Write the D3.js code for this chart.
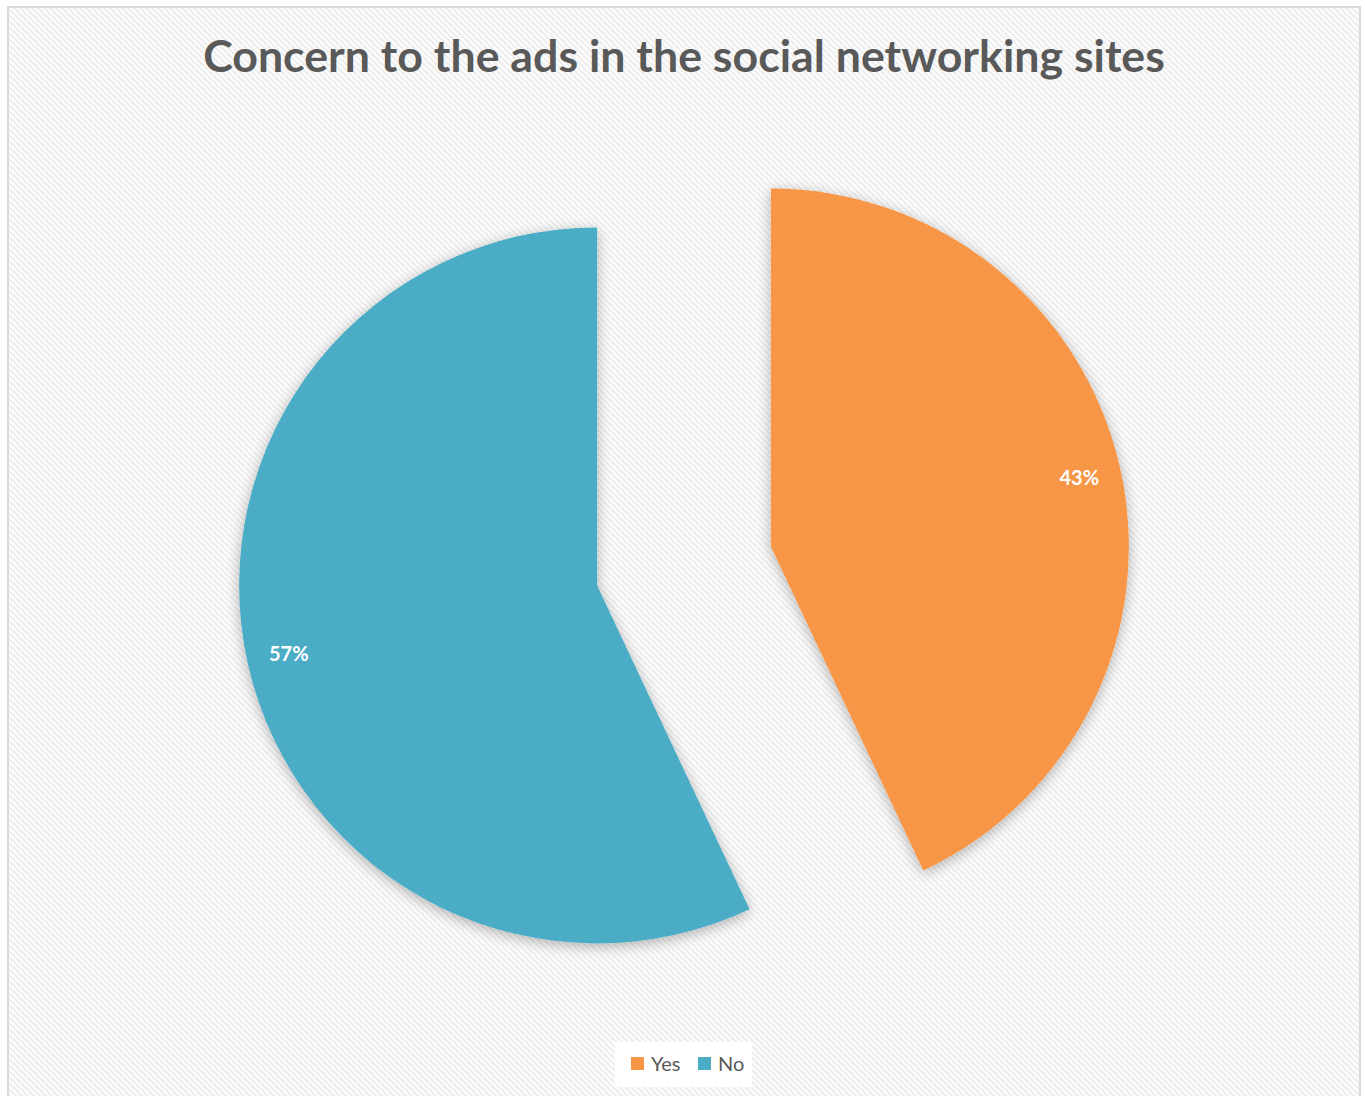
<!DOCTYPE html>
<html>
<head>
<meta charset="utf-8">
<script src="https://cdn.jsdelivr.net/npm/d3@7"></script>
<style>
  html, body { margin: 0; padding: 0; background: #ffffff; }
  svg { display: block; }
</style>
</head>
<body>
<svg id="chart" width="1365" height="1096"></svg>
<script>
// Survey answers and their shares (percent)
const categories = ["Yes", "No"];
const shares = [43, 57];
const sliceColors = ["#F79646", "#4BACC6"];
const titleText = "Concern to the ads in the social networking sites";

const W = 1365, H = 1096;
const svg = d3.select("#chart");
const defs = svg.append("defs");

// light diagonal weave used as chart-area fill
const pat = defs.append("pattern")
  .attr("id", "weave")
  .attr("patternUnits", "userSpaceOnUse")
  .attr("width", 6).attr("height", 6);
pat.append("rect").attr("width", 6).attr("height", 6).attr("fill", "#ffffff");
pat.append("path")
  .attr("d", "M-1,-1 L7,7 M-1,5 L1,7 M5,-1 L7,1")
  .attr("stroke", "#efefef").attr("stroke-width", 2.4);

// soft halo under the slices
const shadow = defs.append("filter")
  .attr("id", "halo")
  .attr("x", "-20%").attr("y", "-20%").attr("width", "140%").attr("height", "140%");
shadow.append("feGaussianBlur").attr("in", "SourceAlpha").attr("stdDeviation", 7).attr("result", "b");
shadow.append("feOffset").attr("in", "b").attr("dx", 0).attr("dy", 3).attr("result", "o");
shadow.append("feComponentTransfer").attr("in", "o").attr("result", "s")
  .append("feFuncA").attr("type", "linear").attr("slope", 0.3);
const merge = shadow.append("feMerge");
merge.append("feMergeNode").attr("in", "s");
merge.append("feMergeNode").attr("in", "SourceGraphic");

// chart frame
svg.append("rect")
  .attr("x", 8).attr("y", 7).attr("width", 1352).attr("height", 1100)
  .attr("fill", "url(#weave)")
  .attr("stroke", "#d9d9d9").attr("stroke-width", 2);

// title
const title = svg.append("text")
  .attr("x", 684).attr("y", 72)
  .attr("text-anchor", "middle")
  .attr("font-family", "Lato, 'Open Sans', sans-serif")
  .attr("font-weight", 700)
  .attr("font-size", 42)
  .attr("fill", "#595959")
  .text(titleText);
const tw = title.node().getComputedTextLength();
title.attr("font-size", 42 * 962 / tw);

// pie
const cx = 684, cy = 566, radius = 358, explode = 89, labelR = 316;
const pie = d3.pie().sort(null).value(d => d.value);
const data = categories.map((c, i) => ({ name: c, value: shares[i], color: sliceColors[i] }));
const arcs = pie(data);
const arc = d3.arc().innerRadius(0).outerRadius(radius);
const labelArc = d3.arc().innerRadius(labelR).outerRadius(labelR);

const offset = d => {
  const mid = (d.startAngle + d.endAngle) / 2;
  return [Math.sin(mid) * explode, -Math.cos(mid) * explode];
};

const g = svg.append("g").attr("transform", `translate(${cx},${cy})`);
const slices = g.selectAll("g.slice").data(arcs).join("g")
  .attr("class", "slice")
  .attr("transform", d => { const o = offset(d); return `translate(${o[0]},${o[1]})`; });

slices.append("path")
  .attr("d", arc)
  .attr("fill", d => d.data.color)
  .attr("filter", "url(#halo)");

slices.append("text")
  .attr("transform", d => `translate(${labelArc.centroid(d)})`)
  .attr("text-anchor", "middle")
  .attr("dy", "0.35em")
  .attr("font-family", "Lato, 'Open Sans', sans-serif")
  .attr("font-weight", 700)
  .attr("font-size", 20)
  .attr("fill", "#ffffff")
  .text(d => d.data.value + "%");

// legend
const lg = svg.append("g");
lg.append("rect")
  .attr("x", 615).attr("y", 1042).attr("width", 137).attr("height", 45)
  .attr("fill", "#ffffff");
const items = [{ x: 631, tx: 651 }, { x: 698, tx: 718 }];
categories.forEach((c, i) => {
  lg.append("rect")
    .attr("x", items[i].x).attr("y", 1057).attr("width", 13).attr("height", 13)
    .attr("fill", sliceColors[i]);
  lg.append("text")
    .attr("x", items[i].tx).attr("y", 1071)
    .attr("font-family", "Lato, 'Open Sans', sans-serif")
    .attr("font-size", 20)
    .attr("fill", "#595959")
    .text(c);
});
</script>
</body>
</html>
